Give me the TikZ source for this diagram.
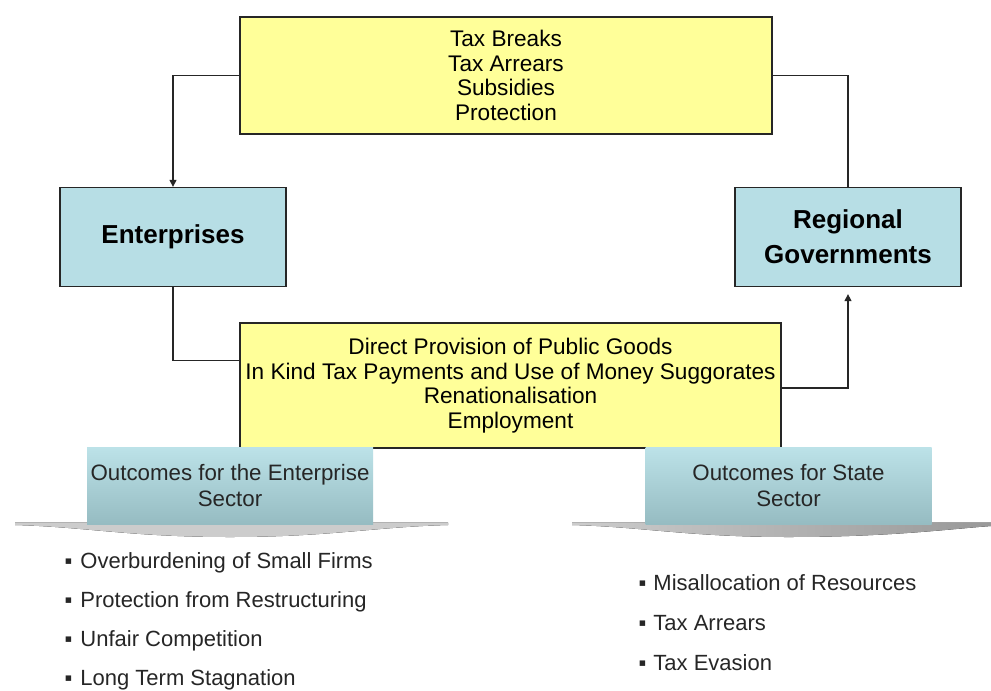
\documentclass[tikz,border=0pt]{standalone}
\usepackage{fontspec}
\setmainfont{Liberation Sans}
\usetikzlibrary{arrows.meta}
\definecolor{boxyellow}{RGB}{255,255,153}
\definecolor{boxblue}{RGB}{183,222,229}
\definecolor{bannertop}{RGB}{188,226,232}
\definecolor{bannerbot}{RGB}{150,188,194}
\definecolor{bannerbase}{RGB}{138,170,176}
\tikzset{
  flowbox/.style={draw=black!85, line width=1.3pt, fill=boxyellow, align=center, inner sep=0pt, font=\fontsize{22.6}{24.5}\selectfont},
  actor/.style={draw=black!85, line width=1.3pt, fill=boxblue, align=center, minimum width=226pt, minimum height=99pt, font=\bfseries\fontsize{26}{35}\selectfont},
  banner/.style={top color=bannertop, bottom color=bannerbot, align=center, inner sep=0pt, minimum width=286pt, minimum height=77pt, text=black!85, font=\fontsize{22.3}{26}\selectfont},
  item/.style={anchor=west, text=black!85, font=\fontsize{22}{24}\selectfont},
  link/.style={draw=black!85, line width=1.3pt},
  tip/.style={-{Triangle[length=7pt,width=7pt]}}
}
\begin{document}
\begin{tikzpicture}[x=1pt, y=-1pt]
\useasboundingbox[fill=white] (0,0) rectangle (991,691);

% Policies of the regional governments
\node[flowbox, minimum width=532pt, minimum height=117pt] (incentives) at (506,75.5) {Tax Breaks\\ Tax Arrears\\ Subsidies\\ Protection};

% Actors
\node[actor] (enterprises) at (173,237) {Enterprises};
\node[actor] (regional) at (848,237) {Regional\\ Governments};

% Contributions of the enterprises
\node[flowbox, minimum width=541pt, minimum height=125pt] (contributions) at (510.5,385.5) {Direct Provision of Public Goods\\ In Kind Tax Payments and Use of Money Suggorates\\ Renationalisation\\ Employment};

% Connectors
\draw[link, tip] (incentives.west) -| (enterprises.north);
\draw[link] (incentives.east) -| (regional.north);
\draw[link] (enterprises.south) |- ([yshift=25pt]contributions.west);
\draw[link, tip, shorten >=7pt] ([yshift=-2.5pt]contributions.east) -| (regional.south);

% Banner bases
\fill[left color=black!20, middle color=bannerbase, right color=black!20] (15,522.5) -- (448,522.5) -- (448,525) .. controls (373,527) and (330,537) .. (230,537) .. controls (130,537) and (87,527) .. (15,525) -- cycle;
\fill[left color=black!20, middle color=bannerbase, right color=black!40] (572,522.5) -- (991,522.5) -- (991,526) .. controls (950,529) and (890,537) .. (788.5,537) .. controls (688,537) and (645,527) .. (572,525) -- cycle;

% Outcome banners
\node[banner] (entout) at (230,485.5) {Outcomes for the Enterprise\\ Sector};
\node[banner] (stateout) at (788.5,485.5) {Outcomes for State\\ Sector};

% Outcomes for the enterprise sector
\node[item] (ent1) at (61,563) {▪\hspace{2pt} Overburdening of Small Firms};
\node[item] (ent2) at (61,602) {▪\hspace{2pt} Protection from Restructuring};
\node[item] (ent3) at (61,641) {▪\hspace{2pt} Unfair Competition};
\node[item] (ent4) at (61,680) {▪\hspace{2pt} Long Term Stagnation};

% Outcomes for the state sector
\node[item] (state1) at (635,583) {▪\hspace{1pt} Misallocation of Resources};
\node[item] (state2) at (635,623) {▪\hspace{1pt} Tax Arrears};
\node[item] (state3) at (635,663) {▪\hspace{1pt} Tax Evasion};
\end{tikzpicture}
\end{document}
